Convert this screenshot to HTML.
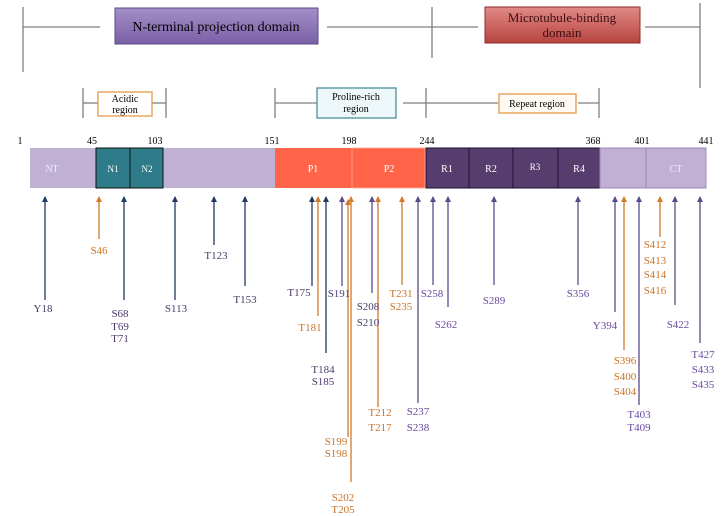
<!DOCTYPE html>
<html><head><meta charset="utf-8"><style>
html,body{margin:0;padding:0;background:#fff}
svg{display:block}
text{font-family:"Liberation Serif",serif}
</style></head><body>
<svg width="723" height="516" viewBox="0 0 723 516" xmlns="http://www.w3.org/2000/svg">
<defs>
<linearGradient id="gp" x1="0" y1="0" x2="0" y2="1"><stop offset="0" stop-color="#a48fc8"/><stop offset="1" stop-color="#7a5fa6"/></linearGradient>
<linearGradient id="gr" x1="0" y1="0" x2="0" y2="1"><stop offset="0" stop-color="#e08a86"/><stop offset="1" stop-color="#b7433f"/></linearGradient>
<marker id="an" markerWidth="6" markerHeight="6" refX="5" refY="3" orient="auto" markerUnits="userSpaceOnUse"><path d="M0,0 L6,3 L0,6 Z" fill="#1f3864"/></marker>
<marker id="ap" markerWidth="6" markerHeight="6" refX="5" refY="3" orient="auto" markerUnits="userSpaceOnUse"><path d="M0,0 L6,3 L0,6 Z" fill="#5b4a8a"/></marker>
<marker id="ao" markerWidth="6" markerHeight="6" refX="5" refY="3" orient="auto" markerUnits="userSpaceOnUse"><path d="M0,0 L6,3 L0,6 Z" fill="#d07a2a"/></marker>
</defs>
<g stroke="#7f7f7f" stroke-width="1.3" fill="none">
<line x1="23" y1="7" x2="23" y2="72"/><line x1="23" y1="27" x2="100" y2="27"/>
<line x1="327" y1="27" x2="478" y2="27"/><line x1="432" y1="7" x2="432" y2="58"/>
<line x1="645" y1="27" x2="700" y2="27"/><line x1="700" y1="3" x2="700" y2="88"/>
<line x1="83" y1="88" x2="83" y2="118"/><line x1="166" y1="88" x2="166" y2="118"/>
<line x1="83" y1="103" x2="98" y2="103"/><line x1="152" y1="103" x2="166" y2="103"/>
<line x1="275" y1="88" x2="275" y2="118"/><line x1="426" y1="88" x2="426" y2="118"/>
<line x1="275" y1="103" x2="317" y2="103"/><line x1="403" y1="103" x2="498" y2="103"/>
<line x1="578" y1="103" x2="599" y2="103"/><line x1="599" y1="88" x2="599" y2="118"/>
</g>
<rect x="115" y="8" width="203" height="36" fill="url(#gp)" stroke="#5a4a8a"/>
<text x="216" y="31" font-size="14" text-anchor="middle">N-terminal projection domain</text>
<rect x="485" y="7" width="155" height="36" fill="url(#gr)" stroke="#8a2e2a"/>
<text x="562" y="22" font-size="13" text-anchor="middle" fill="#3a1010">Microtubule-binding</text>
<text x="562" y="37" font-size="13" text-anchor="middle" fill="#3a1010">domain</text>
<rect x="98" y="92" width="54" height="24" fill="#fff" stroke="#e39a4a" stroke-width="1.3"/>
<text x="125" y="102" font-size="10" text-anchor="middle">Acidic</text>
<text x="125" y="113" font-size="10" text-anchor="middle">region</text>
<rect x="317" y="88" width="79" height="30" fill="#eef8fa" stroke="#4a8f9a" stroke-width="1.3"/>
<text x="356" y="100" font-size="10" text-anchor="middle">Proline-rich</text>
<text x="356" y="112" font-size="10" text-anchor="middle">region</text>
<rect x="499" y="94" width="77" height="19" fill="#fffaf4" stroke="#e39a4a" stroke-width="1.3"/>
<text x="537" y="107" font-size="10" text-anchor="middle">Repeat region</text>
<g font-size="10" text-anchor="middle">
<text x="20" y="144">1</text><text x="92" y="144">45</text><text x="155" y="144">103</text>
<text x="272" y="144">151</text><text x="349" y="144">198</text><text x="427" y="144">244</text>
<text x="593" y="144">368</text><text x="642" y="144">401</text><text x="706" y="144">441</text>
</g>
<rect x="30" y="148" width="245" height="40" fill="#bfb0d4"/>
<rect x="96" y="148" width="34" height="40" fill="#2e7c8a" stroke="#111"/>
<rect x="130" y="148" width="33" height="40" fill="#2e7c8a" stroke="#111"/>
<rect x="275" y="148" width="77" height="40" fill="#ff6448"/>
<rect x="352" y="148" width="73" height="40" fill="#ff6448" stroke="#ffa898" stroke-width="0.8"/>
<g fill="#563d6e" stroke="#1e1030"><rect x="426" y="148" width="43" height="40"/><rect x="469" y="148" width="44" height="40"/><rect x="513" y="148" width="45" height="40"/><rect x="558" y="148" width="42" height="40"/></g>
<rect x="600" y="148" width="106" height="40" fill="#bfb0d4" stroke="#9c88bb"/>
<line x1="646" y1="148" x2="646" y2="188" stroke="#9c88bb"/>
<g font-size="10" text-anchor="middle" fill="#fff">
<text x="52" y="172" fill="#eee">NT</text><text x="113" y="172" font-family="Liberation Sans" font-size="9">N1</text><text x="147" y="172" font-family="Liberation Sans" font-size="9">N2</text>
<text x="313" y="172">P1</text><text x="389" y="172">P2</text>
<text x="447" y="172">R1</text><text x="491" y="172">R2</text><text x="535" y="170" font-size="9">R3</text><text x="579" y="172">R4</text>
<text x="676" y="172" fill="#eee">CT</text>
</g>
<g stroke-width="1.3">
<g stroke="#1f3864" marker-end="url(#an)">
<line x1="45" y1="300" x2="45" y2="197"/><line x1="124" y1="300" x2="124" y2="197"/>
<line x1="175" y1="300" x2="175" y2="197"/><line x1="214" y1="245" x2="214" y2="197"/>
<line x1="245" y1="286" x2="245" y2="197"/><line x1="312" y1="286" x2="312" y2="197"/>
<line x1="326" y1="353" x2="326" y2="197"/>
</g>
<g stroke="#5b4a8a" marker-end="url(#ap)">
<line x1="342" y1="286" x2="342" y2="197"/><line x1="372" y1="293" x2="372" y2="197"/>
<line x1="418" y1="403" x2="418" y2="197"/><line x1="433" y1="285" x2="433" y2="197"/>
<line x1="448" y1="307" x2="448" y2="197"/><line x1="494" y1="285" x2="494" y2="197"/>
<line x1="578" y1="285" x2="578" y2="197"/><line x1="615" y1="312" x2="615" y2="197"/>
<line x1="639" y1="405" x2="639" y2="197"/><line x1="675" y1="305" x2="675" y2="197"/>
<line x1="700" y1="343" x2="700" y2="197"/>
</g>
<g stroke="#d07a2a" marker-end="url(#ao)">
<line x1="99" y1="239" x2="99" y2="197"/><line x1="318" y1="316" x2="318" y2="197"/>
<line x1="348" y1="437" x2="348" y2="200"/><line x1="351" y1="482" x2="351" y2="197"/>
<line x1="378" y1="407" x2="378" y2="197"/><line x1="402" y1="285" x2="402" y2="197"/>
<line x1="624" y1="350" x2="624" y2="197"/><line x1="660" y1="237" x2="660" y2="197"/>
</g>
</g>
<g font-size="11" text-anchor="middle">
<g fill="#4b3a6b">
<text x="43" y="312">Y18</text>
<text x="120" y="317">S68</text><text x="120" y="330">T69</text><text x="120" y="342">T71</text>
<text x="176" y="312">S113</text><text x="216" y="259">T123</text><text x="245" y="303">T153</text>
<text x="299" y="296">T175</text><text x="323" y="373">T184</text><text x="323" y="385">S185</text>
<text x="339" y="297">S191</text>
<text x="368" y="310">S208</text><text x="368" y="326">S210</text>
</g>
<g fill="#6a4aa0">
<text x="418" y="415">S237</text><text x="418" y="431">S238</text>
<text x="432" y="297">S258</text><text x="446" y="328">S262</text><text x="494" y="304">S289</text>
<text x="578" y="297">S356</text><text x="605" y="329">Y394</text>
<text x="639" y="418">T403</text><text x="639" y="431">T409</text>
<text x="678" y="328">S422</text>
<text x="703" y="358">T427</text><text x="703" y="373">S433</text><text x="703" y="388">S435</text>
</g>
<g fill="#c8742a">
<text x="99" y="254">S46</text><text x="310" y="331">T181</text>
<text x="336" y="445">S199</text><text x="336" y="457">S198</text>
<text x="343" y="501">S202</text><text x="343" y="513">T205</text>
<text x="380" y="416">T212</text><text x="380" y="431">T217</text>
<text x="401" y="297">T231</text><text x="401" y="310">S235</text>
<text x="625" y="364">S396</text><text x="625" y="380">S400</text><text x="625" y="395">S404</text>
<text x="655" y="248">S412</text><text x="655" y="264">S413</text><text x="655" y="278">S414</text><text x="655" y="294">S416</text>
</g>
</g>
</svg>
</body></html>
